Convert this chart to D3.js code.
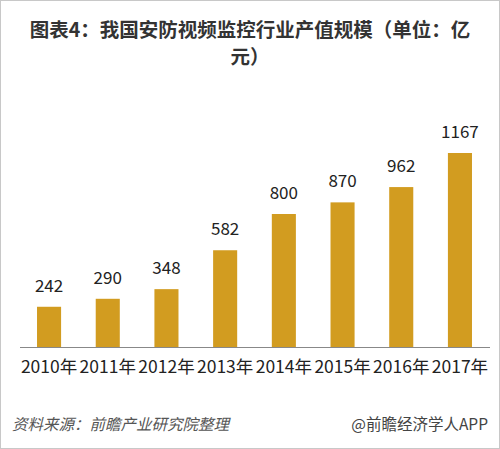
<!DOCTYPE html>
<html>
<head>
<meta charset="utf-8">
<script src="https://cdn.jsdelivr.net/npm/d3@7"></script>
<style>
  body { margin: 0; background: #fff; }
  svg { display: block; }
</style>
</head>
<body>
<div id="chart"></div>
<script>
// chart data
const years = ["2010年", "2011年", "2012年", "2013年", "2014年", "2015年", "2016年", "2017年"];
const values = [242, 290, 348, 582, 800, 870, 962, 1167];
const titleLines = ["图表4：我国安防视频监控行业产值规模（单位：亿", "元）"];
const sourceText = "资料来源：前瞻产业研究院整理";
const brandText = "@前瞻经济学人APP";

let width = 500;
let height = 449;
const font = "'Noto Sans CJK SC', 'Noto Sans', sans-serif";

let svg = d3.select('#chart')
  .append('svg')
  .attr('width', width)
  .attr('height', height);

// frame
svg.append('rect')
  .attr('x', 0.5).attr('y', 0.5)
  .attr('width', width - 1).attr('height', height - 1)
  .attr('fill', '#fff')
  .attr('stroke', '#c8c8c8');

// title
svg.selectAll('.title')
  .data(titleLines)
  .enter()
  .append('text')
  .attr('class', 'title')
  .attr('x', width / 2)
  .attr('y', (d, i) => 37 + i * 27)
  .attr('text-anchor', 'middle')
  .style('font-family', font)
  .style('font-size', '19.5px')
  .style('font-weight', 'bold')
  .style('fill', '#333')
  .text(d => d);

/** scales */
let x = d3.scaleBand()
  .domain(years)
  .range([20, 489])
  .paddingInner(0.59)
  .paddingOuter(0.29);

let baseY = 347;
let y = d3.scaleLinear()
  .domain([0, 1167])
  .range([baseY, 153]);

// bars
svg.selectAll('.bar')
  .data(values)
  .enter()
  .append('rect')
  .attr('class', 'bar')
  .attr('x', (d, i) => x(years[i]))
  .attr('y', d => y(d))
  .attr('width', x.bandwidth())
  .attr('height', d => baseY - y(d))
  .attr('fill', '#d29c20');

// value labels
svg.selectAll('.val')
  .data(values)
  .enter()
  .append('text')
  .attr('class', 'val')
  .attr('x', (d, i) => x(years[i]) + x.bandwidth() / 2)
  .attr('y', d => y(d) - 15)
  .attr('text-anchor', 'middle')
  .style('font-family', font)
  .style('font-size', '17px')
  .style('fill', '#222')
  .text(d => d);

// x axis
let xAxis = d3.axisBottom(x).tickSize(0).tickPadding(14);
let gx = svg.append('g')
  .attr('transform', `translate(0,${baseY})`)
  .call(xAxis);
gx.select('.domain').attr('stroke', '#888').attr('d', 'M20,0.5H490');
gx.selectAll('text')
  .style('font-family', font)
  .style('font-size', '17.5px')
  .style('fill', '#222');

// footer
svg.append('text')
  .attr('x', 12)
  .attr('y', 430)
  .style('font-family', font)
  .style('font-size', '15.5px')
  .style('font-style', 'italic')
  .style('fill', '#555')
  .text(sourceText);

svg.append('text')
  .attr('x', 488)
  .attr('y', 430)
  .attr('text-anchor', 'end')
  .style('font-family', font)
  .style('font-size', '15.5px')
  .style('fill', '#444')
  .text(brandText);
</script>
</body>
</html>
